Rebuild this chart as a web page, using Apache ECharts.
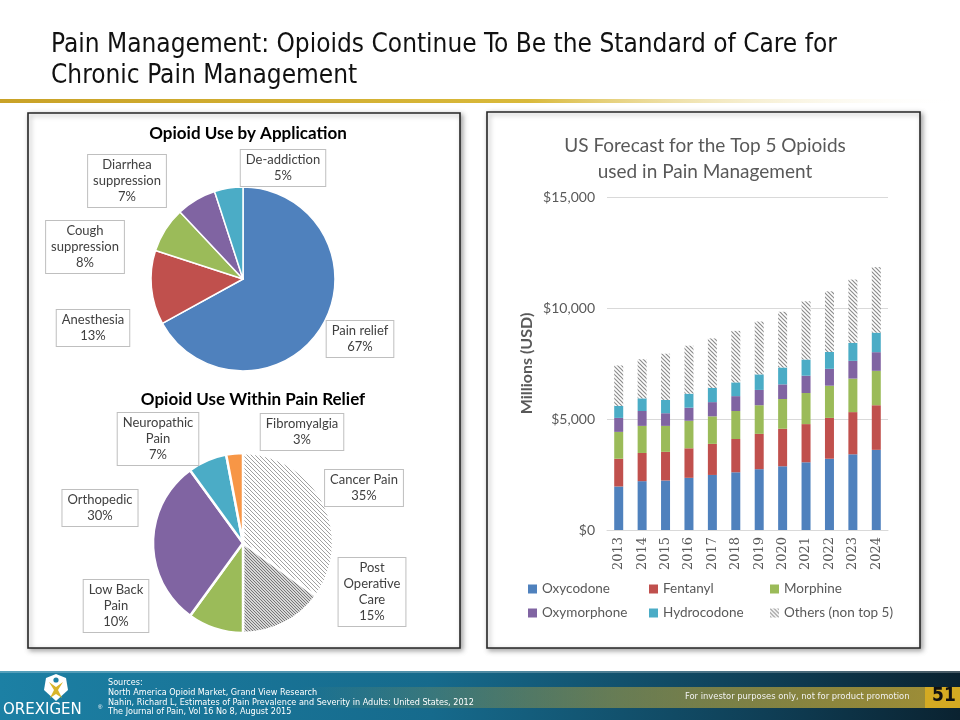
<!DOCTYPE html>
<html><head><meta charset="utf-8">
<script src="https://cdn.jsdelivr.net/npm/echarts@6/dist/echarts.min.js"></script>
<style>html,body{margin:0;padding:0;background:#fff}#c{width:960px;height:720px}</style>
</head><body><div id="c"></div>
<script>
// ---------- DATA ----------
const appCategories = ['Pain relief', 'Anesthesia', 'Cough\nsuppression', 'Diarrhea\nsuppression', 'De-addiction'];
const appValues = [67, 13, 8, 7, 5];

const reliefCategories = ['Cancer Pain', 'Post\nOperative\nCare', 'Low Back\nPain', 'Orthopedic', 'Neuropathic\nPain', 'Fibromyalgia'];
const reliefValues = [35, 15, 10, 30, 7, 3];

const years = ['2013', '2014', '2015', '2016', '2017', '2018', '2019', '2020', '2021', '2022', '2023', '2024'];
const oxycodone   = [1960, 2200, 2230, 2350, 2480, 2600, 2740, 2870, 3050, 3210, 3410, 3610];
const fentanyl    = [1250, 1270, 1290, 1330, 1400, 1500, 1590, 1690, 1720, 1840, 1900, 2010];
const morphine    = [1210, 1220, 1170, 1240, 1240, 1260, 1290, 1340, 1400, 1450, 1510, 1550];
const oxymorphone = [630, 670, 570, 590, 640, 670, 690, 660, 780, 760, 800, 840];
const hydrocodone = [540, 570, 600, 630, 640, 620, 700, 760, 730, 760, 810, 880];
const others      = [1820, 1760, 2080, 2160, 2230, 2320, 2380, 2510, 2620, 2730, 2850, 2950];
const seriesNames = ['Oxycodone', 'Fentanyl', 'Morphine', 'Oxymorphone', 'Hydrocodone', 'Others (non top 5)'];

const yMax = 15000, yStep = 5000;

// ---------- STYLE ----------
const C = { blue: '#4F81BD', red: '#C0504D', green: '#9BBB59', purple: '#8064A2', teal: '#4BACC6', orange: '#F79646' };
const LF = 'Lato, "Open Sans", sans-serif';
const TF = '"DejaVu Sans Condensed", "Noto Sans", sans-serif';

function hatch(lineColor, step, lw) {
  const c = document.createElement('canvas');
  c.width = step; c.height = step;
  const g = c.getContext('2d');
  g.fillStyle = '#ffffff'; g.fillRect(0, 0, step, step);
  g.strokeStyle = lineColor; g.lineWidth = lw;
  g.beginPath();
  for (let k = -step; k <= step; k += step) { g.moveTo(k - 1, -1); g.lineTo(k + step + 1, step + 1); }
  g.stroke();
  return { image: c, repeat: 'repeat' };
}
const hatchCancer = hatch('#a0a0a0', 4, 1);
const hatchPost = hatch('#707070', 3, 1.1);
const hatchOthers = hatch('#8c8c8c', 4, 1.2);

const appLabelPos = [[360, 339], [93, 328], [85, 247], [127, 181], [283, 168]];
const reliefLabelPos = [[364, 488], [372, 592], [116, 606], [100, 508], [158, 439], [302, 432]];
const legendPos = [[528, 582], [649, 582], [770, 582], [528, 606], [649, 606], [770, 606]];

const pieLabel = {
  show: true, position: 'outside',
  formatter: p => p.name + '\n' + p.value + '%',
  color: '#404040', fontSize: 13, lineHeight: 16, fontFamily: LF,
  backgroundColor: '#ffffff', borderColor: '#bfbfbf', borderWidth: 1, padding: [2, 5], align: 'center'
};

const chart = echarts.init(document.getElementById('c'), null, { renderer: 'canvas' });

function barSeries(name, data, color) {
  return {
    type: 'bar', name, data, stack: 'total', barWidth: 9,
    itemStyle: { color }, xAxisIndex: 0, yAxisIndex: 0, z: 3
  };
}

const legends = seriesNames.map((n, i) => ({
  data: [n], left: legendPos[i][0], top: legendPos[i][1],
  itemWidth: 9, itemHeight: 9, itemGap: 0, icon: 'rect', padding: 0,
  textStyle: { color: '#595959', fontSize: 13.5, fontFamily: LF }
}));

const option = {
  animation: false,
  backgroundColor: '#ffffff',
  title: [
    { text: 'Pain Management: Opioids Continue To Be the Standard of Care for\nChronic Pain Management',
      left: 46, top: 25,
      textStyle: { fontFamily: TF, fontSize: 26, fontWeight: 'normal', color: '#111111', lineHeight: 31 } },
    { text: 'Opioid Use by Application', left: 243, top: 120, textAlign: 'center',
      textStyle: { fontFamily: LF, fontSize: 17, fontWeight: 'bold', color: '#000000' } },
    { text: 'Opioid Use Within Pain Relief', left: 248, top: 386, textAlign: 'center',
      textStyle: { fontFamily: LF, fontSize: 17, fontWeight: 'bold', color: '#000000' } },
    { text: 'US Forecast for the Top 5 Opioids\nused in Pain Management', left: 700, top: 128, textAlign: 'center',
      textStyle: { fontFamily: LF, fontSize: 19, fontWeight: 'normal', color: '#595959', lineHeight: 26 } }
  ],
  legend: legends,
  grid: { left: 607, right: 72, top: 197, bottom: 190 },
  xAxis: {
    type: 'category', data: years,
    axisLine: { lineStyle: { color: '#d9d9d9' } }, axisTick: { show: false },
    axisLabel: { rotate: 90, color: '#595959', fontSize: 13, fontFamily: '"DejaVu Serif", "Liberation Serif", serif', margin: 7 }
  },
  yAxis: {
    type: 'value', min: 0, max: yMax, interval: yStep,
    name: 'Millions (USD)', nameLocation: 'middle', nameGap: 72,
    nameTextStyle: { color: '#595959', fontSize: 16, fontWeight: 'bold', fontFamily: LF },
    axisLine: { show: false }, axisTick: { show: false },
    splitLine: { lineStyle: { color: '#d9d9d9' } },
    axisLabel: { color: '#595959', fontSize: 14, fontFamily: LF, margin: 12,
      formatter: v => '$' + v.toLocaleString('en-US') }
  },
  graphic: [
    // gold rule under title
    { type: 'rect', shape: { x: 0, y: 99, width: 960, height: 4 }, z: 0,
      style: { fill: new echarts.graphic.LinearGradient(0, 0, 1, 0, [
        { offset: 0, color: '#c9a227' }, { offset: 0.55, color: '#d9b93a' }, { offset: 1, color: 'rgba(255,255,255,0)' }]) } },
    // left panel
    { type: 'rect', shape: { x: 28, y: 113, width: 432, height: 535 }, z: 0,
      style: { fill: '#ffffff', stroke: '#262626', lineWidth: 1.6, shadowBlur: 5, shadowOffsetX: 2, shadowOffsetY: 2, shadowColor: 'rgba(0,0,0,0.35)' } },
    // right panel
    { type: 'rect', shape: { x: 487, y: 112, width: 433, height: 536 }, z: 0,
      style: { fill: '#ffffff', stroke: '#262626', lineWidth: 1.6, shadowBlur: 5, shadowOffsetX: 2, shadowOffsetY: 2, shadowColor: 'rgba(0,0,0,0.35)' } },
    // footer band
    { type: 'rect', shape: { x: 0, y: 671, width: 960, height: 49 }, z: 0,
      style: { fill: new echarts.graphic.LinearGradient(0, 0, 1, 0, [
        { offset: 0, color: '#1c80a4' }, { offset: 0.45, color: '#166a8c' }, { offset: 0.8, color: '#0f3e55' }, { offset: 1, color: '#0a2230' }]) } },
    { type: 'rect', shape: { x: 0, y: 671, width: 960, height: 2 }, z: 0, style: { fill: 'rgba(255,255,255,0.25)' } },
    // gold band in footer
    { type: 'rect', shape: { x: 300, y: 687, width: 625, height: 21 }, z: 0,
      style: { fill: new echarts.graphic.LinearGradient(0, 0, 1, 0, [
        { offset: 0, color: 'rgba(205,175,55,0)' }, { offset: 0.5, color: 'rgba(205,175,55,0.45)' }, { offset: 1, color: 'rgba(205,175,55,0.75)' }]) } },
    { type: 'rect', shape: { x: 925, y: 687, width: 35, height: 21 }, z: 0, style: { fill: '#d4aa22' } },
    { type: 'text', left: 932, top: 687, z: 10,
      style: { text: '51', fill: '#111111', font: 'bold 19px ' + TF } },
    { type: 'text', left: 685, top: 692, z: 10,
      style: { text: 'For investor purposes only, not for product promotion', fill: '#f2f2f2', font: '9.3px ' + TF } },
    // sources
    { type: 'text', left: 108, top: 678, z: 10,
      style: { text: 'Sources:\nNorth America Opioid Market, Grand View Research\nNahin, Richard L, Estimates of Pain Prevalence and Severity in Adults: United States, 2012\nThe Journal of Pain, Vol 16 No 8, August 2015',
        fill: '#ffffff', font: '9px ' + TF, lineHeight: 9.7 } },
    // logo
    { type: 'polygon', z: 10, shape: { points: [[56, 674], [66, 678], [68, 690], [56, 701], [44, 690], [46, 678]] },
      style: { fill: '#ffffff' } },
    { type: 'polygon', z: 11, shape: { points: [[49, 682], [56, 687], [63, 682], [58, 690], [62, 698], [56, 694], [50, 698], [54, 690]] },
      style: { fill: '#d9b52a' } },
    { type: 'circle', z: 11, shape: { cx: 56, cy: 680, r: 2.6 }, style: { fill: '#1c80a4' } },
    { type: 'text', left: 3, top: 703, z: 10,
      style: { text: 'OREXIGEN', fill: '#ffffff', font: '15px "DejaVu Sans", sans-serif' } },
    { type: 'text', left: 98, top: 704, z: 10, style: { text: '®', fill: '#ffffff', font: '6px sans-serif' } }
  ],
  series: [
    {
      type: 'pie', center: [243, 279], radius: 92, startAngle: 90, clockwise: true,
      avoidLabelOverlap: false, z: 3,
      data: appCategories.map((n, i) => ({ name: n, value: appValues[i] })),
      color: [C.blue, C.red, C.green, C.purple, C.teal],
      itemStyle: { borderColor: '#ffffff', borderWidth: 1.5 },
      label: pieLabel, labelLine: { show: false },
      labelLayout: p => ({ x: appLabelPos[p.dataIndex][0], y: appLabelPos[p.dataIndex][1], align: 'center', verticalAlign: 'middle' })
    },
    {
      type: 'pie', center: [243, 543], radius: 90, startAngle: 90, clockwise: true,
      avoidLabelOverlap: false, z: 3,
      data: reliefCategories.map((n, i) => ({ name: n, value: reliefValues[i] })),
      color: [hatchCancer, hatchPost, C.green, C.purple, C.teal, C.orange],
      itemStyle: { borderColor: '#ffffff', borderWidth: 2.5 },
      label: pieLabel, labelLine: { show: false },
      labelLayout: p => ({ x: reliefLabelPos[p.dataIndex][0], y: reliefLabelPos[p.dataIndex][1], align: 'center', verticalAlign: 'middle' })
    },
    barSeries(seriesNames[0], oxycodone, C.blue),
    barSeries(seriesNames[1], fentanyl, C.red),
    barSeries(seriesNames[2], morphine, C.green),
    barSeries(seriesNames[3], oxymorphone, C.purple),
    barSeries(seriesNames[4], hydrocodone, C.teal),
    barSeries(seriesNames[5], others, hatchOthers)
  ]
};
chart.setOption(option);
</script>
</body></html>
